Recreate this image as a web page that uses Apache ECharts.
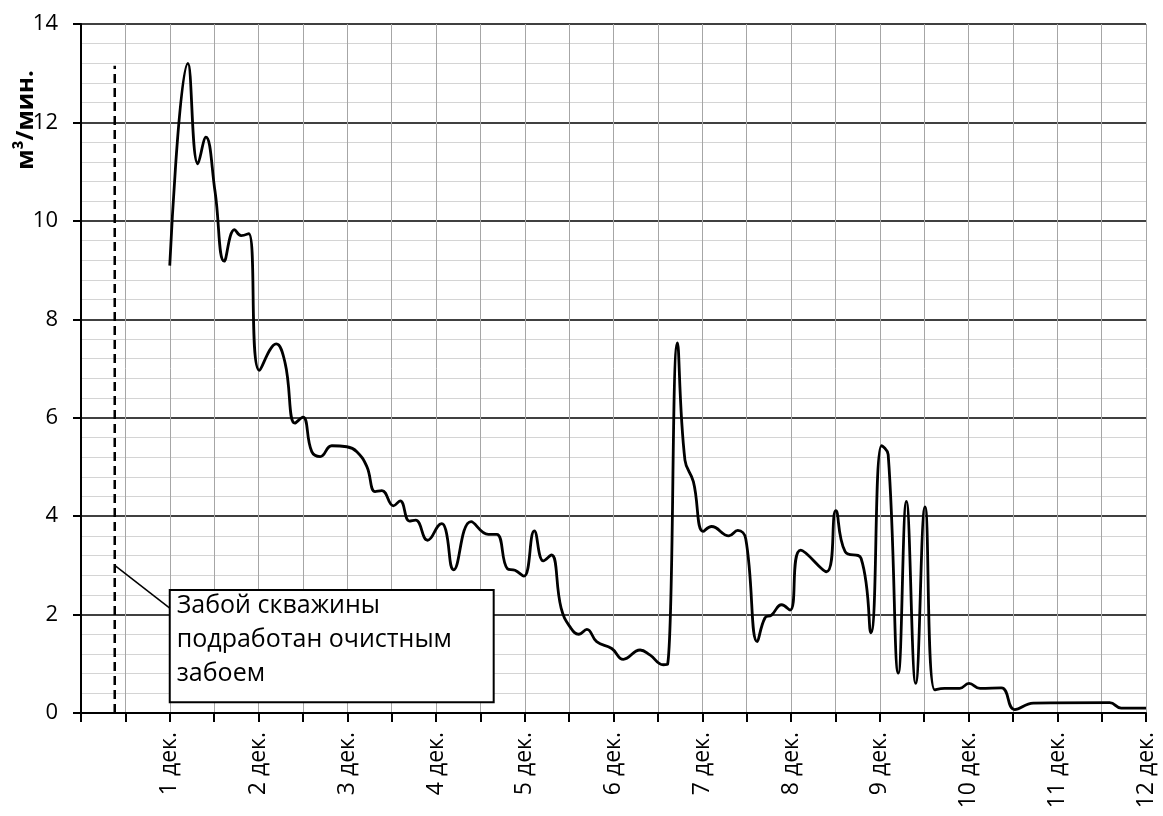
<!DOCTYPE html>
<html>
<head>
<meta charset="utf-8">
<script src="https://cdn.jsdelivr.net/npm/echarts@6/dist/echarts.min.js"></script>
<style>
  html, body { margin: 0; padding: 0; background: #fff; }
  #chart { width: 1163px; height: 816px; }
</style>
</head>
<body>
<div id="chart"></div>
<script>
// Time in days from the start of the period, gas flow in m3/min
const flowDays = [
  1.0, 1.205, 1.317, 1.407, 1.51, 1.614, 1.73, 1.805, 1.89, 2.01,
  2.2, 2.3, 2.41, 2.5, 2.6, 2.695, 2.826, 2.995, 3.108, 3.22, 3.314, 3.39,
  3.52, 3.596, 3.70, 3.77, 3.905, 4.065, 4.11, 4.20, 4.395, 4.59, 4.685,
  4.805, 4.89, 4.99, 5.108, 5.21, 5.30, 5.41, 5.51, 5.61, 5.70, 5.81, 5.98,
  6.11, 6.30, 6.41, 6.56, 6.61, 6.72, 6.805, 6.90, 7.01, 7.105, 7.30, 7.40,
  7.49, 7.62, 7.706, 7.78, 7.894, 7.99, 8.11, 8.40, 8.505, 8.61, 8.79, 8.90,
  9.02, 9.095, 9.21, 9.30, 9.405, 9.51, 9.62, 9.73, 9.90, 10.005, 10.13,
  10.37, 10.52, 10.73, 11.59, 11.72, 12.0
];
const flowValues = [
  9.09, 13.2, 11.16, 11.70, 10.6, 9.18, 9.82, 9.70, 9.74, 6.96,
  7.50, 7.11, 5.89, 6.01, 5.31, 5.21, 5.43, 5.41, 5.31, 5.01, 4.50, 4.52,
  4.21, 4.31, 3.90, 3.92, 3.51, 3.85, 3.72, 2.91, 3.89, 3.63, 3.63,
  2.93, 2.90, 2.78, 3.70, 3.09, 3.21, 2.13, 1.75, 1.60, 1.70, 1.45, 1.31,
  1.09, 1.28, 1.18, 0.98, 0.99, 7.52, 5.14, 4.70, 3.69, 3.79, 3.60, 3.71,
  3.54, 1.45, 1.93, 1.99, 2.20, 2.09, 3.31, 2.87, 4.11, 3.28, 3.14, 1.63,
  5.43, 5.25, 0.81, 4.30, 0.60, 4.19, 0.47, 0.50, 0.50, 0.60, 0.50,
  0.51, 0.07, 0.20, 0.21, 0.10, 0.10
];

// Moment the borehole bottom was undermined by the longwall face
const undermineDay = 0.38;
const undermineTop = 13.15;
const calloutStart = [undermineDay, 3.0];
const calloutEnd = [1.0, 2.13];
const calloutBox = [[1.0, 2.5], [4.65, 0.22]];
const calloutText = ['Забой скважины', 'подработан очистным', 'забоем'];

const dayLabel = 'дек.';
const yName = 'м³/мин.';

const FONT = '"Open Sans", "Noto Sans", sans-serif';

const chart = echarts.init(document.getElementById('chart'), null, { renderer: 'canvas' });

chart.setOption({
  animation: false,
  backgroundColor: '#fff',
  grid: { left: 81, right: 17, top: 24, bottom: 103 },
  xAxis: {
    type: 'value',
    min: 0,
    max: 12,
    interval: 0.5,
    axisLine: { show: true, onZero: false, lineStyle: { color: '#000', width: 2 } },
    axisTick: { show: true, length: 9, lineStyle: { color: '#000', width: 2 } },
    axisLabel: {
      rotate: 90,
      margin: 19,
      fontFamily: FONT,
      fontSize: 23,
      color: '#000',
      showMinLabel: true,
      showMaxLabel: true,
      formatter: v => (Number.isInteger(v) && v > 0) ? v + ' ' + dayLabel : ''
    },
    splitLine: { show: true, lineStyle: { color: '#a6a6a6', width: 1 } }
  },
  yAxis: {
    type: 'value',
    min: 0,
    max: 14,
    interval: 2,
    axisLine: { show: true, lineStyle: { color: '#000', width: 2 } },
    axisTick: { show: true, length: 8, lineStyle: { color: '#000', width: 2 } },
    axisLabel: { margin: 23, fontFamily: FONT, fontSize: 22, color: '#000' },
    splitLine: { show: true, lineStyle: { color: '#000', width: 1.5 } },
    minorTick: { show: false, splitNumber: 5 },
    minorSplitLine: { show: true, lineStyle: { color: '#d4d4d4', width: 1 } }
  },
  graphic: [{
    type: 'text',
    x: 26,
    y: 120,
    rotation: Math.PI / 2,
    style: {
      text: yName,
      font: 'bold 24px ' + FONT,
      fill: '#000',
      textAlign: 'center',
      textVerticalAlign: 'middle'
    }
  }],
  series: [
    {
      name: 'flow',
      type: 'line',
      data: flowDays.map((d, i) => [d, flowValues[i]]),
      smooth: 0.45,
      showSymbol: false,
      lineStyle: { color: '#000', width: 2.8 },
      z: 5
    },
    {
      name: 'undermine',
      type: 'line',
      data: [[undermineDay, 0], [undermineDay, undermineTop]],
      showSymbol: false,
      lineStyle: { color: '#000', width: 2.5, type: [9, 5] },
      z: 4
    },
    {
      name: 'callout',
      type: 'line',
      data: [calloutStart, calloutEnd],
      showSymbol: false,
      lineStyle: { color: '#000', width: 1.5 },
      z: 4,
      markArea: {
        silent: true,
        itemStyle: { color: '#fff', borderColor: '#000', borderWidth: 2 },
        label: {
          show: true,
          position: [8, 0],
          fontFamily: FONT,
          fontSize: 25,
          lineHeight: 34,
          color: '#000',
          formatter: calloutText.join('\n')
        },
        data: [[{ coord: calloutBox[0] }, { coord: calloutBox[1] }]]
      }
    }
  ]
});
</script>
</body>
</html>
